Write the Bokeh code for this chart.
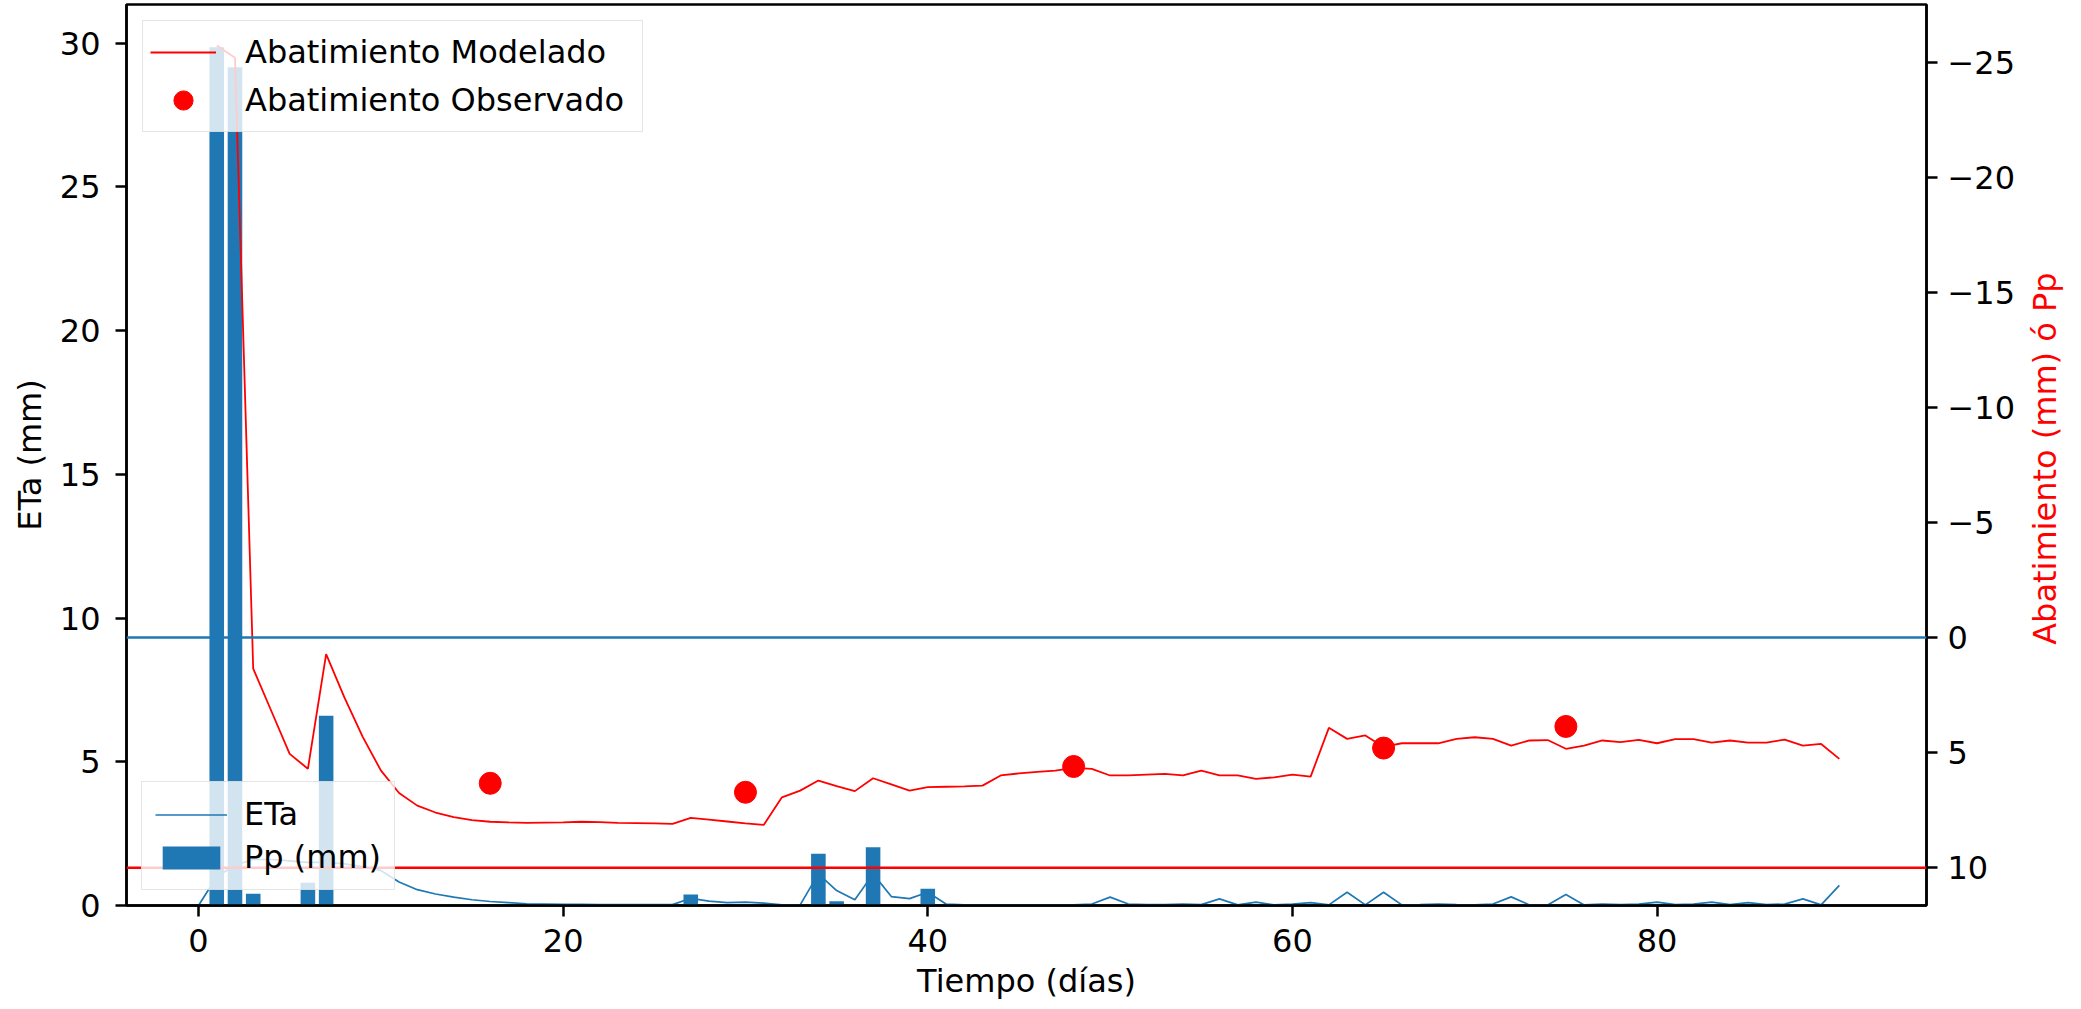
import math
from bokeh.plotting import figure
from bokeh.layouts import row
from bokeh.models import (Range1d, LinearAxis, FixedTicker, CustomJSTickFormatter,
                          Span, Legend, LegendItem, Label)
from bokeh.embed import file_html
from bokeh.resources import INLINE

# ---------------- data ----------------
eta_days = list(range(0, 91))
eta_mm = [0.0, 1.0, 1.4, 1.6, 1.6, 1.55, 1.5, 1.5, 1.45, 1.35,
          1.22, 0.82, 0.55, 0.4, 0.29, 0.2, 0.14, 0.1, 0.06, 0.05,
          0.04, 0.04, 0.03, 0.03, 0.03, 0.03, 0.03, 0.25, 0.15, 0.1,
          0.12, 0.08, 0.02, 0.02, 1.1, 0.52, 0.2, 1.1, 0.31, 0.24,
          0.46, 0.05, 0.02, 0.02, 0.02, 0.02, 0.02, 0.02, 0.02, 0.05,
          0.29, 0.05, 0.03, 0.03, 0.05, 0.03, 0.23, 0.02, 0.12, 0.02,
          0.05, 0.1, 0.02, 0.46, 0.02, 0.46, 0.02, 0.03, 0.05, 0.03,
          0.02, 0.05, 0.3, 0.02, 0.02, 0.38, 0.02, 0.05, 0.03, 0.05,
          0.12, 0.03, 0.05, 0.12, 0.03, 0.1, 0.03, 0.05, 0.23, 0.02,
          0.7]

model_days = list(range(1, 91))
abat_modelado = [-25.73, -25.2, 1.35, 3.2, 5.05, 5.7, 0.72, 2.6, 4.3, 5.77,
                 6.75, 7.3, 7.6, 7.8, 7.93, 8.0, 8.03, 8.05, 8.04, 8.03,
                 8.0, 8.02, 8.05, 8.06, 8.07, 8.09, 7.83, 7.91, 7.99, 8.07,
                 8.14, 6.94, 6.65, 6.21, 6.45, 6.67, 6.11, 6.38, 6.65, 6.5,
                 6.48, 6.46, 6.43, 5.99, 5.9, 5.83, 5.78, 5.66, 5.7, 5.99,
                 5.99, 5.95, 5.92, 5.99, 5.78, 5.99, 5.99, 6.14, 6.07, 5.95,
                 6.04, 3.92, 4.4, 4.25, 4.75, 4.59, 4.59, 4.59, 4.4, 4.33,
                 4.4, 4.69, 4.47, 4.45, 4.83, 4.69, 4.47, 4.54, 4.44, 4.59,
                 4.41, 4.41, 4.56, 4.47, 4.56, 4.56, 4.43, 4.69, 4.62, 5.27]

obs_days = [16, 30, 48, 65, 75]
abat_observado = [6.33, 6.72, 5.6, 4.8, 3.86]

pp_days = [1, 2, 3, 6, 7, 27, 34, 35, 37, 40]
pp_mm = [29.85, 29.16, 0.41, 0.79, 6.6, 0.38, 1.8, 0.15, 2.03, 0.58]

ref_levels = [0, 10]          # horizontal reference lines (right axis)

x_ticks = [0, 20, 40, 60, 80]
left_ticks = [0, 5, 10, 15, 20, 25, 30]
right_ticks = [-25, -20, -15, -10, -5, 0, 5, 10]

# ---------------- style ----------------
FONT = "DejaVu Sans"
FS = "32px"
BLUE = "#1f77b4"
RED = "#ff0000"

W, H = 2018, 1009
B_LEFT, B_TOP, B_RIGHT, B_BOTTOM = 126, 4, 91, 104
W_TITLE = 52          # narrow strip holding the right axis title

p = figure(width=W, height=H, output_backend="svg", toolbar_location=None,
           x_range=Range1d(-3.95, 94.78), y_range=Range1d(0, 31.34),
           min_border_left=B_LEFT, min_border_right=B_RIGHT,
           min_border_top=B_TOP, min_border_bottom=B_BOTTOM)
p.extra_y_ranges = {"right": Range1d(start=11.64, end=-27.51)}
p.xgrid.visible = False
p.ygrid.visible = False
p.outline_line_color = "black"
p.outline_line_width = 2.5
p.outline_line_alpha = 1.0
p.background_fill_color = "white"
p.border_fill_color = "white"


def style_axis(ax):
    ax.axis_line_color = "black"
    ax.axis_line_width = 2.5
    ax.major_tick_line_color = "black"
    ax.major_tick_line_width = 2.5
    ax.major_tick_out = 11
    ax.major_tick_in = 0
    ax.minor_tick_line_color = None
    ax.major_label_text_font = FONT
    ax.major_label_text_font_size = FS
    ax.major_label_text_color = "black"
    ax.axis_label_text_font = FONT
    ax.axis_label_text_font_size = FS
    ax.axis_label_text_font_style = "normal"
    ax.axis_label_text_color = "black"


p.xaxis.ticker = FixedTicker(ticks=x_ticks)
p.xaxis.axis_label = "Tiempo (días)"
style_axis(p.xaxis[0])
p.xaxis.major_label_standoff = 12
p.xaxis.axis_label_standoff = 7

p.yaxis.ticker = FixedTicker(ticks=left_ticks)
p.yaxis.axis_label = "ETa (mm)"
style_axis(p.yaxis[0])
p.yaxis.major_label_standoff = 15
p.yaxis.axis_label_standoff = 8

ax_r = LinearAxis(y_range_name="right", ticker=FixedTicker(ticks=right_ticks),
                  formatter=CustomJSTickFormatter(
                      code="return tick < 0 ? '\\u2212' + Math.abs(tick) : String(tick);"))
style_axis(ax_r)
ax_r.major_label_standoff = 10
p.add_layout(ax_r, "right")

# ---------------- first axis: Pp bars + ETa ----------------
bars = p.vbar(x=pp_days, top=pp_mm, width=0.8, fill_color=BLUE, line_color=None)
eta = p.line(eta_days, eta_mm, line_color=BLUE, line_width=1.7)

# ---------------- second axis ----------------
p.add_layout(Span(location=ref_levels[0], dimension="width", y_range_name="right",
                  line_color=BLUE, line_width=2.5))
p.add_layout(Span(location=ref_levels[1], dimension="width", y_range_name="right",
                  line_color=RED, line_width=2.5, level="overlay"))
model = p.line(model_days, abat_modelado, line_color=RED, line_width=1.8,
               y_range_name="right")
obs = p.scatter(obs_days, abat_observado, size=22, fill_color=RED, line_color=RED,
                y_range_name="right")


def style_legend(leg):
    leg.label_text_font = FONT
    leg.label_text_font_size = FS
    leg.label_text_color = "black"
    leg.border_line_color = "#cccccc"
    leg.border_line_width = 1.5
    leg.background_fill_color = "white"
    leg.background_fill_alpha = 0.8


leg_low = Legend(items=[LegendItem(label="ETa", renderers=[eta]),
                        LegendItem(label="Pp (mm)", renderers=[bars])],
                 location="bottom_left", margin=15)
style_legend(leg_low)
leg_low.glyph_width = 72
leg_low.glyph_height = 29
leg_low.label_standoff = 17
leg_low.padding = 13
leg_low.spacing = 5
p.add_layout(leg_low, "center")

leg_up = Legend(items=[LegendItem(label="Abatimiento Modelado", renderers=[model]),
                       LegendItem(label="Abatimiento Observado", renderers=[obs])],
                location="top_left", margin=16)
style_legend(leg_up)
leg_up.glyph_width = 66
leg_up.glyph_height = 48
leg_up.label_standoff = 29
leg_up.padding = 7
leg_up.spacing = 0
leg_up.label_width = 390
p.add_layout(leg_up, "center")

# ---------------- right axis title (reads bottom-to-top, centred) ----------------
# the row layout aligns this strip's frame with the main frame (top 4, bottom 905)
t = figure(width=W_TITLE, height=H, output_backend="svg", toolbar_location=None,
           x_range=Range1d(0, 1), y_range=Range1d(0, 1),
           min_border_left=0, min_border_right=0, min_border_top=0, min_border_bottom=0)
t.axis.visible = False
t.xgrid.visible = False
t.ygrid.visible = False
t.outline_line_color = None
t.background_fill_color = "white"
t.border_fill_color = "white"
t.add_layout(Label(x=0.5, y=0.496, text="Abatimiento (mm) ó Pp",
                   text_font=FONT, text_font_size=FS, text_color=RED,
                   text_align="center", text_baseline="middle", angle=math.pi / 2))

open("out.html", "w").write(file_html(row(p, t), INLINE))
